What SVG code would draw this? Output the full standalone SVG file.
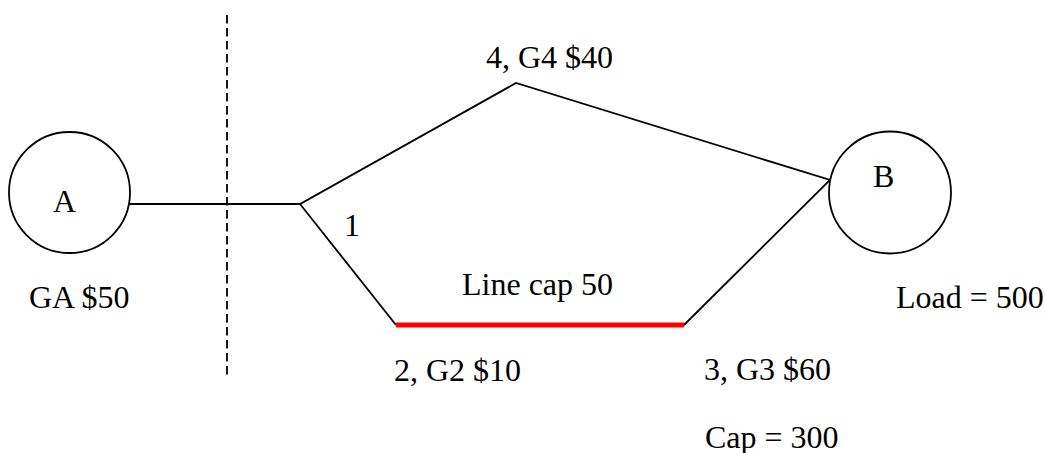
<svg xmlns="http://www.w3.org/2000/svg" width="1046" height="453" viewBox="0 0 1046 453">
  <style>
    .wire { stroke: #000; stroke-width: 1.8; fill: none; }
    .bus { stroke: #000; stroke-width: 1.8; fill: #fff; }
    .lbl { font-family: "Liberation Serif", "Times New Roman", serif; font-size: 32px; fill: #000; }
  </style>
  <rect width="1046" height="453" fill="#fff"/>

  <!-- boundary / cut line -->
  <line x1="227" y1="15" x2="227" y2="375" stroke="#000" stroke-width="1.8" stroke-dasharray="8.5,4.5"/>

  <g id="connectors">
    <polyline class="wire" points="130,204 300,204 516,83 830,180 684,325"/>
    <polyline class="wire" points="300,204 396,325"/>
    <line x1="396" y1="325" x2="684" y2="325" stroke="#ff0000" stroke-width="5"/>
  </g>

  <g id="node-A">
    <circle class="bus" cx="69.5" cy="192.5" r="60.5"/>
    <text class="lbl" x="53" y="212">A</text>
    <text class="lbl" x="29" y="308">GA $50</text>
  </g>

  <g id="node-1">
    <text class="lbl" x="344" y="236">1</text>
  </g>

  <g id="node-4">
    <text class="lbl" x="486" y="68">4, G4 $40</text>
  </g>

  <g id="node-2">
    <text class="lbl" x="394" y="381">2, G2 $10</text>
  </g>

  <g id="line-2-3">
    <text class="lbl" x="462" y="295">Line cap 50</text>
  </g>

  <g id="node-3">
    <text class="lbl" x="704" y="380">3, G3 $60</text>
    <text class="lbl" x="705" y="448">Cap = 300</text>
  </g>

  <g id="node-B">
    <circle class="bus" cx="890" cy="192.5" r="61"/>
    <text class="lbl" x="873" y="187">B</text>
    <text class="lbl" x="896" y="308">Load = 500</text>
  </g>
</svg>
